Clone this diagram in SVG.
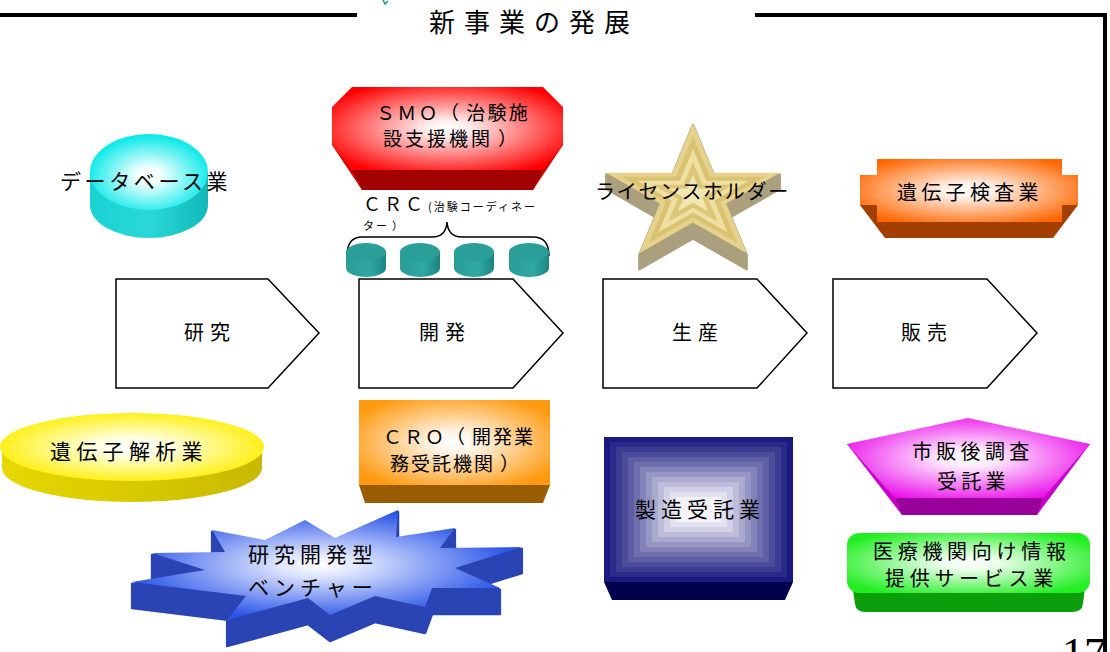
<svg xmlns="http://www.w3.org/2000/svg" xmlns:xlink="http://www.w3.org/1999/xlink" width="1110" height="652" viewBox="0 0 1110 652">
<style>
.t{font-family:"Noto Sans CJK JP","Noto Sans",sans-serif;fill:#000;}
.f20{font-size:20px;}
.chev{fill:#fff;stroke:#000;stroke-width:1.5;}
.frame{stroke:#000;stroke-width:4;fill:none;}
.ext-star{fill:#aaa07e;stroke:#aaa07e;stroke-width:2.5;stroke-linejoin:round;}
.ext-burst{fill:#2a44b4;stroke:#2a44b4;stroke-width:2.5;stroke-linejoin:round;}
</style>
<defs>
<radialGradient id="gCyan" cx="0.5" cy="0.55" r="0.55"><stop offset="0" stop-color="#fff"/><stop offset="0.2" stop-color="#f0ffff"/><stop offset="1" stop-color="#00e8e8"/></radialGradient>
<linearGradient id="sCyan" x1="0" x2="1"><stop offset="0" stop-color="#19d2d2"/><stop offset="0.5" stop-color="#2ad8d8"/><stop offset="1" stop-color="#12b8b8"/></linearGradient>
<radialGradient id="gRed" cx="0.5" cy="0.5" r="0.6"><stop offset="0" stop-color="#fff"/><stop offset="0.15" stop-color="#fff0f0"/><stop offset="1" stop-color="#ff0000"/></radialGradient>
<radialGradient id="gYel" cx="0.5" cy="0.5" r="0.55"><stop offset="0" stop-color="#fff"/><stop offset="0.25" stop-color="#ffffe0"/><stop offset="1" stop-color="#ffee00"/></radialGradient>
<linearGradient id="sYel" x1="0" x2="1"><stop offset="0" stop-color="#e6d800"/><stop offset="0.5" stop-color="#d8ca00"/><stop offset="1" stop-color="#c8b800"/></linearGradient>
<radialGradient id="gOrg" cx="0.5" cy="0.5" r="0.6"><stop offset="0" stop-color="#fff"/><stop offset="0.2" stop-color="#fff4e6"/><stop offset="1" stop-color="#ff9a10"/></radialGradient>
<radialGradient id="gOrg2" cx="0.5" cy="0.5" r="0.6"><stop offset="0" stop-color="#fff"/><stop offset="0.2" stop-color="#ffefe6"/><stop offset="1" stop-color="#ff6600"/></radialGradient>
<radialGradient id="gMag" cx="0.5" cy="0.5" r="0.6"><stop offset="0" stop-color="#fff"/><stop offset="0.2" stop-color="#ffe8ff"/><stop offset="1" stop-color="#e800e8"/></radialGradient>
<radialGradient id="gGrn" cx="0.5" cy="0.5" r="0.6"><stop offset="0" stop-color="#fff"/><stop offset="0.2" stop-color="#eaffea"/><stop offset="1" stop-color="#22ee22"/></radialGradient>
<radialGradient id="gBlue" cx="0.48" cy="0.5" r="0.5"><stop offset="0" stop-color="#fff"/><stop offset="0.2" stop-color="#dfe6ff"/><stop offset="1" stop-color="#2a55e8"/></radialGradient>
<linearGradient id="sTeal" x1="0" x2="1"><stop offset="0" stop-color="#2a9d98"/><stop offset="0.6" stop-color="#2fa8a2"/><stop offset="1" stop-color="#1c8580"/></linearGradient>
<polygon id="burst" points="305,520 335,538 398,510 396,537 455,528 440,548 522,547 455,568 500,588 432,588 425,607 375,596 330,615 308,598 227,620 246,596 132,582 205,570 152,553 225,552 212,530 265,540"/>
<polygon id="star" points="693,123 713.5,172.75 780,172.75 726.2,203.5 746.7,253.2 693,222.5 639.3,253.2 659.8,203.5 606,172.75 672.5,172.75"/>
</defs>

<g id="frame">
<line class="frame" x1="0" y1="15" x2="357" y2="15"/>
<polyline class="frame" points="755,15 1105,15 1105,652"/>
<path d="M383,0 L385,4 L388,1" fill="none" stroke="#1a9a90" stroke-width="1.5"/>
<text x="1062" y="668" font-family="Liberation Serif,serif" font-size="44" fill="#000">17</text>
</g>

<g id="title"><text class="t" x="429" y="32" font-size="26" letter-spacing="9">新事業の発展</text></g>

<g id="connectors">
<path d="M347,256 Q347,237 362,237 L432,237 Q446,237 447,222 Q448,237 462,237 L533,237 Q549,237 549,256" fill="none" stroke="#000" stroke-width="1.5"/>
</g>

<g id="node-database">
<ellipse cx="149" cy="205" rx="59" ry="33" fill="url(#sCyan)"/>
<rect x="90" y="172" width="118" height="33" fill="url(#sCyan)"/>
<ellipse cx="149" cy="172" rx="59" ry="38" fill="url(#gCyan)"/>
<text class="t" x="60" y="189" font-size="21" letter-spacing="3.6">データベース業</text>
</g>

<g id="node-smo">
<polygon points="332,145 563,145 533,190 362,190" fill="#d40000"/>
<polygon points="352,170 543,170 533,190 362,190" fill="#a30000"/>
<polygon points="352,87 543,87 563,107 563,145 543,170 352,170 332,145 332,107" fill="url(#gRed)"/>
<text class="t" x="376" y="120" font-size="19" letter-spacing="2.3">ＳＭＯ（<tspan dx="5">治験施</tspan></text>
<text class="t" x="383" y="146" font-size="19" letter-spacing="3">設支援機関<tspan dx="5">）</tspan></text>
</g>

<g id="node-crc">
<text class="t" x="363" y="211" font-size="18" letter-spacing="3">ＣＲＣ</text>
<text class="t" x="428" y="211" font-size="11" letter-spacing="2">(治験コーディネー</text>
<text class="t" x="363" y="230" font-size="11" letter-spacing="2">ター<tspan dx="3">）</tspan></text>
<g>
<ellipse cx="366" cy="268" rx="20" ry="9" fill="url(#sTeal)"/><rect x="346" y="252" width="40" height="16" fill="url(#sTeal)"/><ellipse cx="366" cy="252" rx="20" ry="9" fill="#2a9f99"/>
<ellipse cx="420" cy="268" rx="20" ry="9" fill="url(#sTeal)"/><rect x="400" y="252" width="40" height="16" fill="url(#sTeal)"/><ellipse cx="420" cy="252" rx="20" ry="9" fill="#2a9f99"/>
<ellipse cx="474" cy="268" rx="20" ry="9" fill="url(#sTeal)"/><rect x="454" y="252" width="40" height="16" fill="url(#sTeal)"/><ellipse cx="474" cy="252" rx="20" ry="9" fill="#2a9f99"/>
<ellipse cx="529" cy="268" rx="20" ry="9" fill="url(#sTeal)"/><rect x="509" y="252" width="40" height="16" fill="url(#sTeal)"/><ellipse cx="529" cy="252" rx="20" ry="9" fill="#2a9f99"/>
</g>
</g>

<g id="node-license">
<g class="ext-star">
<use xlink:href="#star" transform="translate(0,2)"/><use xlink:href="#star" transform="translate(0,4)"/><use xlink:href="#star" transform="translate(0,6)"/><use xlink:href="#star" transform="translate(0,8)"/><use xlink:href="#star" transform="translate(0,10)"/><use xlink:href="#star" transform="translate(0,12)"/><use xlink:href="#star" transform="translate(0,14)"/><use xlink:href="#star" transform="translate(0,16)"/>
</g>
<use xlink:href="#star" fill="#e6d28a"/>
<use xlink:href="#star" fill="#d9c272" transform="translate(693,195) scale(0.82) translate(-693,-195)"/>
<use xlink:href="#star" fill="#efe0a2" transform="translate(693,195) scale(0.64) translate(-693,-195)"/>
<use xlink:href="#star" fill="#dcc678" transform="translate(693,195) scale(0.46) translate(-693,-195)"/>
<use xlink:href="#star" fill="#f2e6b4" transform="translate(693,195) scale(0.28) translate(-693,-195)"/>
<text class="t" x="595" y="199" font-size="20" letter-spacing="1.7">ライセンスホルダー</text>
</g>

<g id="node-genetest">
<polygon points="860,205 1078,205 1053,238 885,238" fill="#a33f00"/>
<polygon points="877,159 1062,159 1062,175 1078,175 1078,205 1062,205 1062,222 877,222 877,205 860,205 860,175 877,175" fill="url(#gOrg2)"/>
<text class="t" x="897" y="200" font-size="20" letter-spacing="4.3">遺伝子検査業</text>
</g>

<g id="node-research"><polygon class="chev" points="116,279 268,279 319,333 268,388 116,388"/><text class="t f20" x="184" y="340" letter-spacing="6">研究</text></g>
<g id="node-development"><polygon class="chev" points="359,279 513,279 563,333 513,388 359,388"/><text class="t f20" x="419" y="340" letter-spacing="6">開発</text></g>
<g id="node-production"><polygon class="chev" points="603,279 757,279 807,333 757,388 603,388"/><text class="t f20" x="672" y="340" letter-spacing="6">生産</text></g>
<g id="node-sales"><polygon class="chev" points="833,279 987,279 1037,333 987,388 833,388"/><text class="t f20" x="901" y="340" letter-spacing="6">販売</text></g>

<g id="node-geneanalysis">
<ellipse cx="132" cy="468" rx="130" ry="34" fill="url(#sYel)"/>
<rect x="2" y="447" width="260" height="21" fill="url(#sYel)"/>
<ellipse cx="132" cy="447" rx="132" ry="34" fill="url(#gYel)"/>
<text class="t" x="50" y="459" font-size="21" letter-spacing="5.3">遺伝子解析業</text>
</g>

<g id="node-venture">
<g class="ext-burst">
<use xlink:href="#burst" transform="translate(0,2)"/><use xlink:href="#burst" transform="translate(0,4)"/><use xlink:href="#burst" transform="translate(0,6)"/><use xlink:href="#burst" transform="translate(0,8)"/><use xlink:href="#burst" transform="translate(0,10)"/><use xlink:href="#burst" transform="translate(0,12)"/><use xlink:href="#burst" transform="translate(0,14)"/><use xlink:href="#burst" transform="translate(0,16)"/><use xlink:href="#burst" transform="translate(0,18)"/><use xlink:href="#burst" transform="translate(0,20)"/><use xlink:href="#burst" transform="translate(0,22)"/><use xlink:href="#burst" transform="translate(0,24)"/><use xlink:href="#burst" transform="translate(0,26)"/>
</g>
<use xlink:href="#burst" fill="url(#gBlue)"/>
<text class="t" x="248" y="562" font-size="21" letter-spacing="5">研究開発型</text>
<text class="t" x="248" y="595" font-size="21" letter-spacing="5">ベンチャー</text>
</g>

<g id="node-cro">
<polygon points="359,485 550,485 543,503 365,503" fill="#9a5c00"/>
<rect x="359" y="400" width="191" height="85" fill="url(#gOrg)"/>
<text class="t" x="383" y="444" font-size="19" letter-spacing="2">ＣＲＯ（<tspan dx="5">開発業</tspan></text>
<text class="t" x="390" y="471" font-size="19" letter-spacing="2">務受託機関<tspan dx="5">）</tspan></text>
</g>

<g id="node-manufacturing">
<polygon points="604,582 793,582 785,600 612,600" fill="#00004c"/>
<rect x="604" y="437" width="189" height="145" fill="#1a1a80"/>
<rect x="610" y="442" width="177" height="135" fill="#2a2a88"/>
<rect x="616" y="447" width="165" height="125" fill="#3b3b91"/>
<rect x="622" y="452" width="153" height="115" fill="#4c4c9a"/>
<rect x="628" y="457" width="141" height="105" fill="#5e5ea4"/>
<rect x="634" y="462" width="129" height="95" fill="#7070ae"/>
<rect x="640" y="467" width="117" height="85" fill="#8383b9"/>
<rect x="646" y="472" width="105" height="75" fill="#9696c4"/>
<rect x="652" y="477" width="93" height="65" fill="#aaaacf"/>
<rect x="658" y="482" width="81" height="55" fill="#bdbddb"/>
<rect x="664" y="487" width="69" height="45" fill="#d0d0e6"/>
<rect x="670" y="492" width="57" height="35" fill="#e2e2ef"/>
<rect x="676" y="497" width="45" height="25" fill="#f2f2f8"/>
<text class="t" x="635" y="517" font-size="21" letter-spacing="5">製造受託業</text>
</g>

<g id="node-postmarketing">
<polygon points="847,444 902,515 1037,515 1090,444" fill="#c800c8"/>
<polygon points="895,498 1043,498 1037,515 902,515" fill="#990099"/>
<polygon points="968,418 1090,444 1043,498 895,498 847,444" fill="url(#gMag)"/>
<text class="t" x="912" y="459" font-size="20" letter-spacing="4.3">市販後調査</text>
<text class="t" x="937" y="489" font-size="20" letter-spacing="4.3">受託業</text>
</g>

<g id="node-medinfo">
<path d="M850,570 L1087,570 L1083,604 Q1082,612 1072,612 L866,612 Q856,612 855,604 Z" fill="#0b9e0b"/>
<rect x="847" y="533" width="243" height="60" rx="12" fill="url(#gGrn)"/>
<text class="t" x="873" y="559" font-size="20" letter-spacing="4.7">医療機関向け情報</text>
<text class="t" x="885" y="586" font-size="20" letter-spacing="4.7">提供サービス業</text>
</g>
</svg>
